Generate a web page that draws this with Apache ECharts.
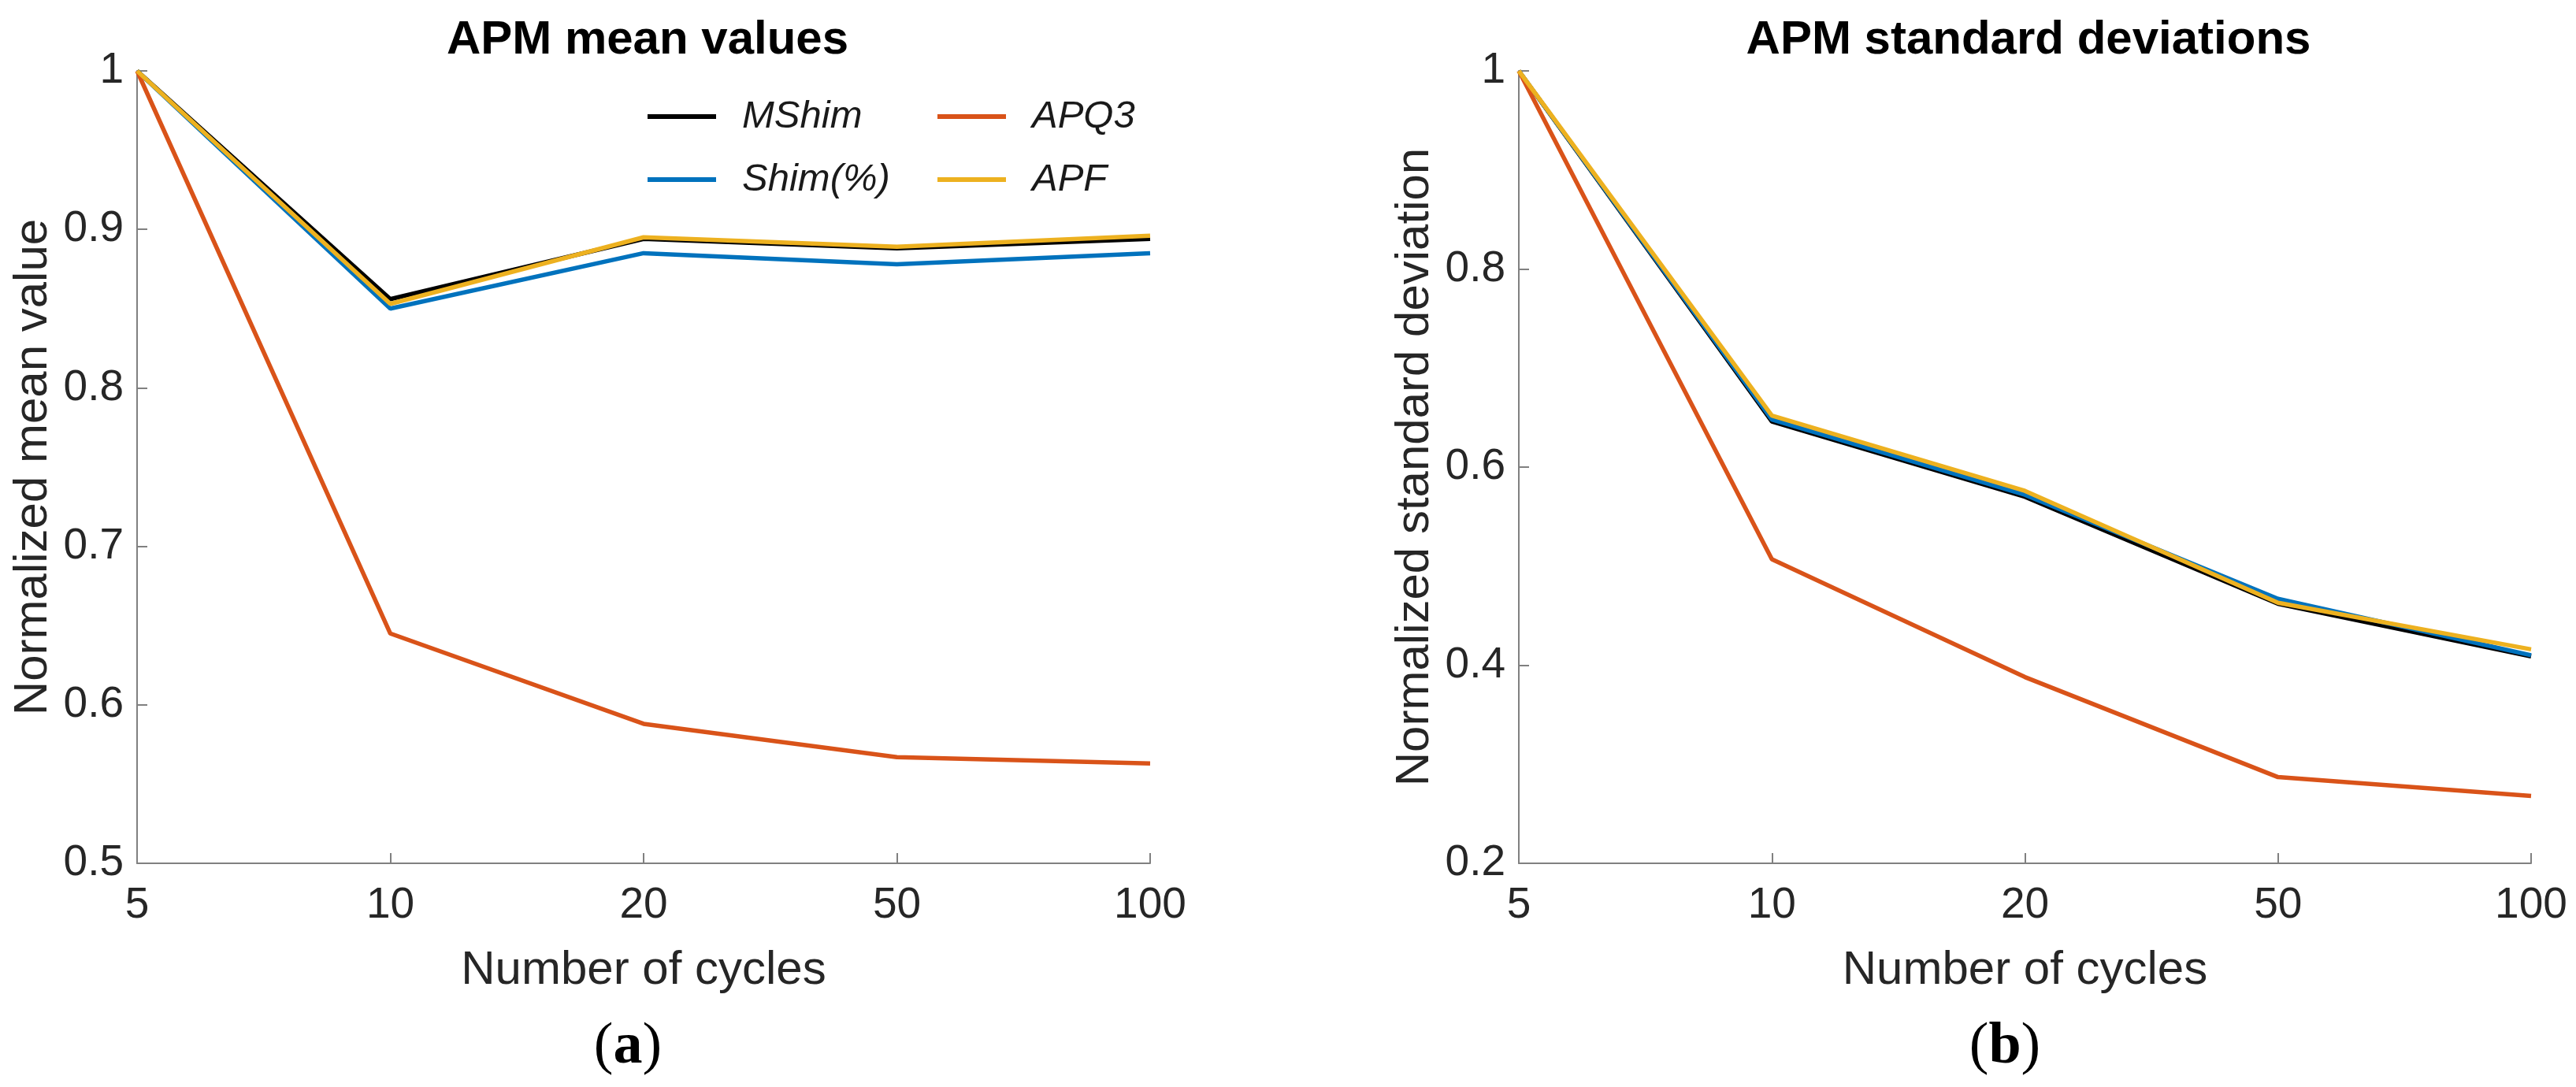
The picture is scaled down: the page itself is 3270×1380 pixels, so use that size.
<!DOCTYPE html>
<html>
<head>
<meta charset="utf-8">
<script src="https://cdn.jsdelivr.net/npm/echarts@6/dist/echarts.min.js"></script>
<style>
html,body{margin:0;padding:0;background:#fff;}
#chart{width:3270px;height:1380px;}
</style>
</head>
<body>
<div id="chart"></div>
<script>
// ---- data ----
const cycles = ['5', '10', '20', '50', '100'];
const seriesNames = ['MShim', 'Shim(%)', 'APQ3', 'APF'];
const meanMShim = [1, 0.856, 0.894, 0.888, 0.894];
const meanShim  = [1, 0.850, 0.885, 0.878, 0.885];
const meanAPQ3  = [1, 0.645, 0.588, 0.567, 0.563];
const meanAPF   = [1, 0.853, 0.895, 0.889, 0.896];
const stdMShim = [1, 0.646, 0.570, 0.462, 0.409];
const stdShim  = [1, 0.648, 0.572, 0.467, 0.410];
const stdAPQ3  = [1, 0.507, 0.388, 0.287, 0.268];
const stdAPF   = [1, 0.652, 0.576, 0.463, 0.416];

const colors = ['#000000', '#0072BD', '#D95319', '#EDB120'];
const FONT = '"Liberation Sans", Arial, Helvetica, sans-serif';
const SERIF = '"Liberation Serif", "Times New Roman", serif';
const TXT = '#262626';
const AX = '#808080';

function xAxis(gi) {
  return {
    type: 'category', gridIndex: gi, data: cycles, boundaryGap: false,
    name: 'Number of cycles', nameLocation: 'middle', nameGap: 106,
    nameTextStyle: {fontFamily: FONT, fontSize: 60, color: TXT},
    axisLine: {show: true, lineStyle: {color: AX, width: 2}},
    axisTick: {show: true, inside: true, length: 13, alignWithLabel: true, lineStyle: {color: AX, width: 2}},
    axisLabel: {fontFamily: FONT, fontSize: 55, color: TXT, margin: 26, interval: 0},
    splitLine: {show: false}
  };
}
function yAxis(gi, name, min, interval) {
  return {
    type: 'value', gridIndex: gi, min: min, max: 1, interval: interval,
    name: name, nameLocation: 'middle', nameGap: 102,
    nameTextStyle: {fontFamily: FONT, fontSize: 60, color: TXT},
    axisLine: {show: true, lineStyle: {color: AX, width: 2}},
    axisTick: {show: true, inside: true, length: 13, lineStyle: {color: AX, width: 2}},
    axisLabel: {fontFamily: FONT, fontSize: 55, color: TXT, margin: 17},
    splitLine: {show: false}
  };
}
function line(name, data, gi, color) {
  return {
    name: name, type: 'line', xAxisIndex: gi, yAxisIndex: gi, data: data,
    showSymbol: false, symbol: 'none', smooth: false, animation: false,
    lineStyle: {color: color, width: 5.5}, itemStyle: {color: color}
  };
}
const legendCommon = {
  orient: 'vertical', top: 118, itemGap: 30, icon: 'rect', itemWidth: 87, itemHeight: 6,
  textStyle: {fontFamily: FONT, fontSize: 49, fontStyle: 'italic', color: '#1a1a1a', lineHeight: 50, padding: [0, 0, 0, 28]}
};
function panelLabel(letter, x) {
  return {
    text: '{p|(}{b|' + letter + '}{p|)}', left: x, top: 1288, textAlign: 'center',
    textStyle: {fontWeight: 'normal', rich: {
      p: {fontFamily: SERIF, fontSize: 74, fontWeight: 'normal', color: '#000'},
      b: {fontFamily: SERIF, fontSize: 74, fontWeight: 'bold', color: '#000'}
    }}
  };
}

const chart = echarts.init(document.getElementById('chart'));
chart.setOption({
  backgroundColor: '#ffffff',
  animation: false,
  title: [
    {text: 'APM mean values', left: 817, top: 16, textAlign: 'center',
     textStyle: {fontFamily: FONT, fontSize: 60, fontWeight: 'bold', color: '#000'}},
    {text: 'APM standard deviations', left: 2570, top: 16, textAlign: 'center',
     textStyle: {fontFamily: FONT, fontSize: 60, fontWeight: 'bold', color: '#000'}},
    panelLabel('a', 792),
    panelLabel('b', 2540)
  ],
  legend: [
    Object.assign({left: 817, data: [seriesNames[0], seriesNames[1]]}, legendCommon),
    Object.assign({left: 1185, data: [seriesNames[2], seriesNames[3]]}, legendCommon)
  ],
  grid: [
    {left: 174, top: 90, width: 1286, height: 1006},
    {left: 1928, top: 90, width: 1285, height: 1006}
  ],
  xAxis: [xAxis(0), xAxis(1)],
  yAxis: [yAxis(0, 'Normalized mean value', 0.5, 0.1), yAxis(1, 'Normalized standard deviation', 0.2, 0.2)],
  series: [
    line(seriesNames[0], meanMShim, 0, colors[0]),
    line(seriesNames[1], meanShim, 0, colors[1]),
    line(seriesNames[2], meanAPQ3, 0, colors[2]),
    line(seriesNames[3], meanAPF, 0, colors[3]),
    line(seriesNames[0], stdMShim, 1, colors[0]),
    line(seriesNames[1], stdShim, 1, colors[1]),
    line(seriesNames[2], stdAPQ3, 1, colors[2]),
    line(seriesNames[3], stdAPF, 1, colors[3])
  ]
});
</script>
</body>
</html>
